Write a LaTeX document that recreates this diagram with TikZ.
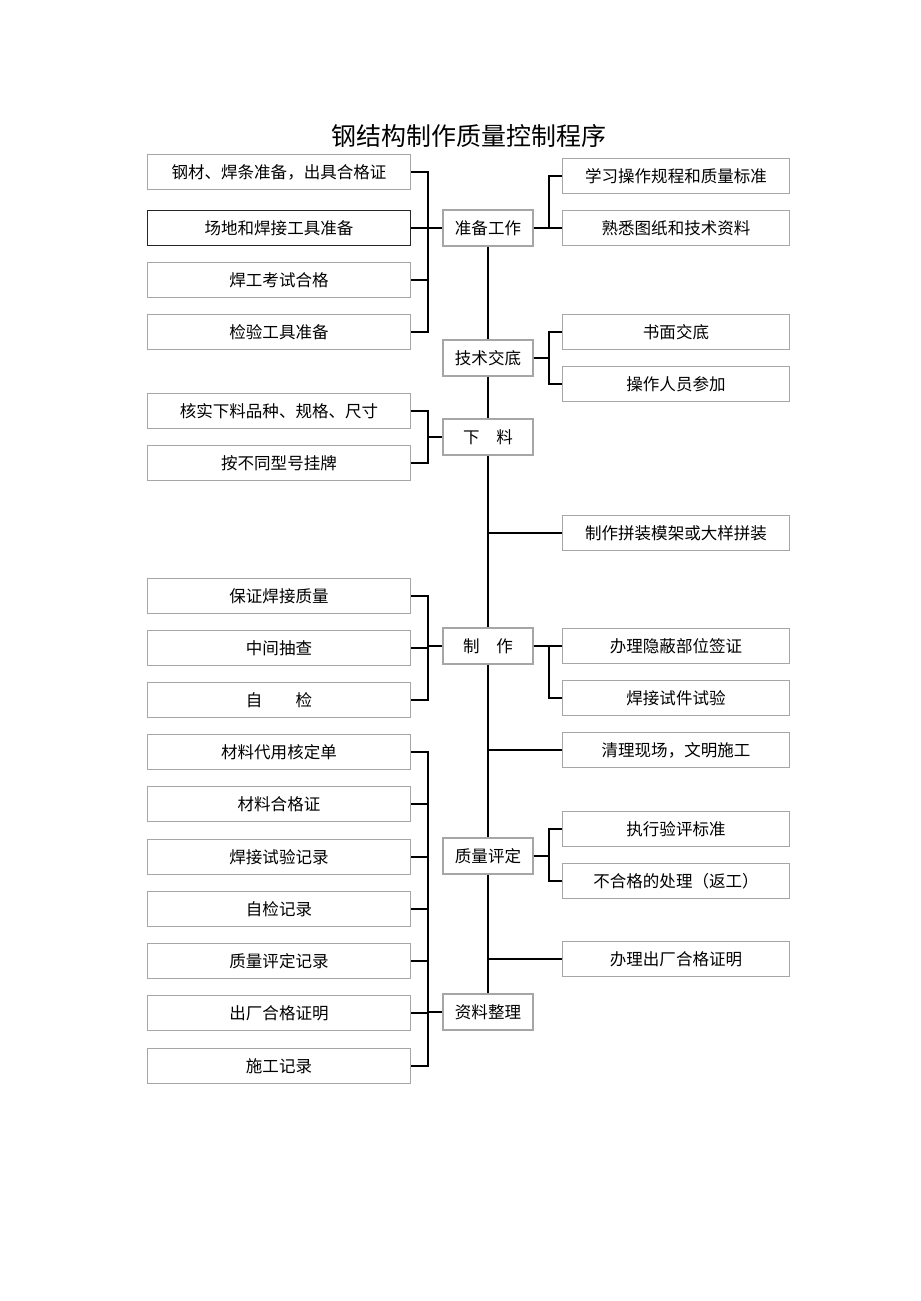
\documentclass[tikz,border=0pt]{standalone}
\usepackage{fontspec}
\newfontfamily\cjk{Noto Sans CJK SC}
\usepackage{tikz}
\usetikzlibrary{calc,positioning}
\tikzset{
box/.style={draw=gray!70,line width=0.8pt,fill=white,minimum height=0.7cm,inner sep=1pt},
left box/.style={box,minimum width=5.26cm},
right box/.style={box,minimum width=4.54cm},
main box/.style={box,minimum width=1.8cm,minimum height=0.72cm},
link/.style={line width=1pt,black}}

\begin{document}
\begin{tikzpicture}[x=0.02cm,y=-0.02cm,font=\cjk\fontsize{9.4pt}{11pt}\selectfont]

\useasboundingbox (0,0) rectangle (920,1301);

\node (title) at (469,136) {\fontsize{14.2pt}{17pt}\selectfont 钢结构制作质量控制程序};

\node[main box] (c1) at (488,228) {准备工作};
\node[main box] (c2) at (488,358) {技术交底};
\node[main box] (c3) at (488,437) {下\quad 料};
\node[main box] (c4) at (488,646) {制\quad 作};
\node[main box] (c5) at (488,856) {质量评定};
\node[main box] (c6) at (488,1012) {资料整理};

\node[left box] (a1) at (279,172) {钢材、焊条准备，出具合格证};
\node[left box,draw=black!85,line width=1.1pt] (a2) at (279,228) {场地和焊接工具准备};
\node[left box] (a3) at (279,280) {焊工考试合格};
\node[left box] (a4) at (279,332) {检验工具准备};
\node[right box] (b1) at (676,176) {学习操作规程和质量标准};
\node[right box] (b2) at (676,228) {熟悉图纸和技术资料};

\node[right box] (b3) at (676,332) {书面交底};
\node[right box] (b4) at (676,384) {操作人员参加};

\node[left box] (a5) at (279,411) {核实下料品种、规格、尺寸};
\node[left box] (a6) at (279,463) {按不同型号挂牌};

\node[right box] (b5) at (676,533) {制作拼装模架或大样拼装};

\node[left box] (a7) at (279,596) {保证焊接质量};
\node[left box] (a8) at (279,648) {中间抽查};
\node[left box] (a9) at (279,700) {自\qquad 检};
\node[right box] (b6) at (676,646) {办理隐蔽部位签证};
\node[right box] (b7) at (676,698) {焊接试件试验};

\node[right box] (b8) at (676,750) {清理现场，文明施工};

\node[right box] (b9) at (676,829) {执行验评标准};
\node[right box] (b10) at (676,881) {不合格的处理（返工）};

\node[right box] (b11) at (676,959) {办理出厂合格证明};

\node[left box] (d1) at (279,752) {材料代用核定单};
\node[left box] (d2) at (279,804) {材料合格证};
\node[left box] (d3) at (279,857) {焊接试验记录};
\node[left box] (d4) at (279,909) {自检记录};
\node[left box] (d5) at (279,961) {质量评定记录};
\node[left box] (d6) at (279,1013) {出厂合格证明};
\node[left box] (d7) at (279,1066) {施工记录};

\draw[link] (c1.south) -- (c2.north);
\draw[link] (c2.south) -- (c3.north);
\draw[link] (c3.south) -- (c4.north);
\draw[link] (c4.south) -- (c5.north);
\draw[link] (c5.south) -- (c6.north);

\foreach \a/\c in {a1/c1,a2/c1,a3/c1,a4/c1,a5/c3,a6/c3,a7/c4,a8/c4,a9/c4,
  d1/c6,d2/c6,d3/c6,d4/c6,d5/c6,d6/c6,d7/c6}
  \draw[link] (\a.east) -- ++(17,0) |- (\c.west);

\foreach \c/\b in {c1/b1,c1/b2,c2/b3,c2/b4,c4/b6,c4/b7,c5/b9,c5/b10}
  \draw[link] (\c.east) -- ++(15,0) |- (\b.west);

\foreach \b in {b5,b8,b11}
  \draw[link] (\b.west) -- (\b.west -| c1.south);

\end{tikzpicture}
\end{document}
